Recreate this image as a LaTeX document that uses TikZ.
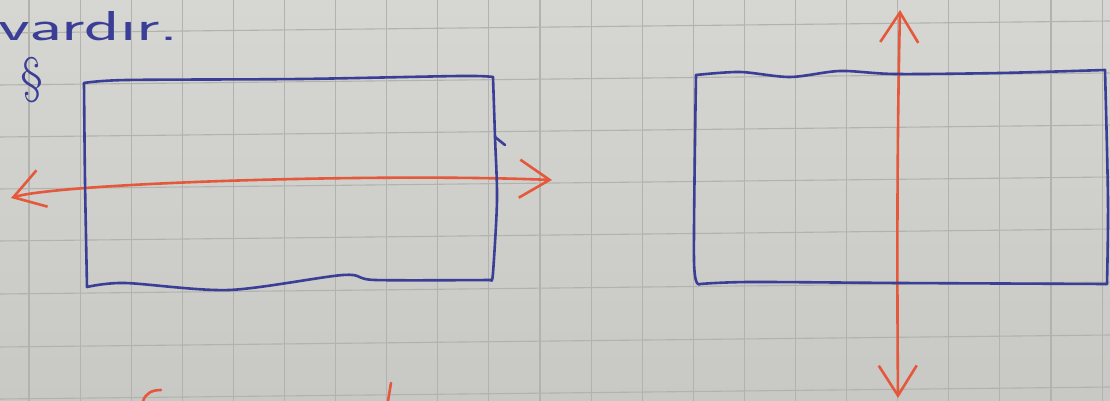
\documentclass[tikz,border=0pt]{standalone}
\usepackage{fontspec}
\usetikzlibrary{arrows.meta}
\definecolor{penblue}{HTML}{3B3E96}
\definecolor{penred}{HTML}{E5583B}
\definecolor{papertop}{HTML}{D6D6D2}
\definecolor{paperbot}{HTML}{C8C8C4}
\definecolor{gridcol}{HTML}{B2B2AE}
\tikzset{
  bluepen/.style={draw=penblue,line width=2.6bp,line cap=round,line join=round},
  redpen/.style={draw=penred,line width=2.6bp,line cap=round,line join=round},
  gridpen/.style={draw=gridcol,line width=1.1bp}
}
\begin{document}
\begin{tikzpicture}[>={Straight Barb[length=30bp,width=38bp]}]
  \useasboundingbox (0bp,0bp) rectangle (1110bp,401bp);
  \shade [top color=papertop,bottom color=paperbot] (0bp,0bp) rectangle (1110bp,401bp);
		%% squared paper
  \foreach \i in {0,...,21}
    \draw [gridpen] ({(29+51.1*\i)*1bp},0bp) -- ({(29+51.1*\i)*1bp},401bp);
  \foreach \r in {21,73,125,177,229,282,335,387}
    \draw [gridpen] (0bp,{(389-\r)*1bp}) -- (1110bp,{(401-\r)*1bp});
		%% writing
  \node (Vardir) at (-2bp,360bp) [anchor=base west,inner sep=0pt,text=penblue,font=\sffamily\fontsize{42}{48}\selectfont,xscale=1.75,transform shape] {vardır.};
  \node (Mark) at (32bp,321bp) [inner sep=0pt,text=penblue,font=\fontsize{50}{56}\selectfont] {§};
		%% arrows
  \coordinate (WestTip) at (11bp,203bp);
  \coordinate (EastTip) at (552bp,221bp);
  \coordinate (NorthTip) at (900bp,391bp);
  \coordinate (SouthTip) at (898bp,3bp);
  \draw [redpen,<->] (WestTip) ..controls (60bp,218bp) and (380bp,228bp)  .. (EastTip);
  \draw [redpen,<->] (NorthTip) ..controls (897bp,260bp) and (897bp,130bp)  .. (SouthTip);
		%% left box
  \draw [bluepen] plot [smooth] coordinates {(84bp,318bp) (127bp,321bp) (300bp,322bp) (460bp,325bp) (493bp,324bp)};
  \draw [bluepen] plot [smooth] coordinates {(493bp,324bp) (495bp,264bp) (497bp,201bp) (493bp,128bp) (491bp,121bp)};
  \draw [bluepen] plot [smooth] coordinates {(491bp,121bp) (375bp,121bp) (343bp,126bp) (229bp,111bp) (125bp,118bp) (87bp,114bp)};
  \draw [bluepen] plot [smooth] coordinates {(87bp,114bp) (85bp,220bp) (84bp,318bp)};
  \draw [bluepen] (495bp,264bp) -- (505bp,256bp);
		%% right box
  \draw [bluepen] plot [smooth] coordinates {(696bp,326bp) (740bp,329bp) (790bp,324bp) (840bp,330bp) (895bp,327bp) (1000bp,328bp) (1105bp,331bp)};
  \draw [bluepen] plot [smooth] coordinates {(1105bp,331bp) (1108bp,200bp) (1107bp,117bp)};
  \draw [bluepen] plot [smooth] coordinates {(1107bp,117bp) (900bp,118bp) (750bp,119bp) (700bp,117bp)};
  \draw [bluepen] plot [smooth] coordinates {(700bp,117bp) (694bp,140bp) (696bp,326bp)};
		%% marks cut by the lower edge
  \draw [redpen] (143bp,0bp) ..controls (146bp,8bp) and (152bp,11bp)  .. (161bp,11bp);
  \draw [redpen] (391bp,18bp) -- (388bp,0bp);
		%
\end{tikzpicture}
\end{document}
